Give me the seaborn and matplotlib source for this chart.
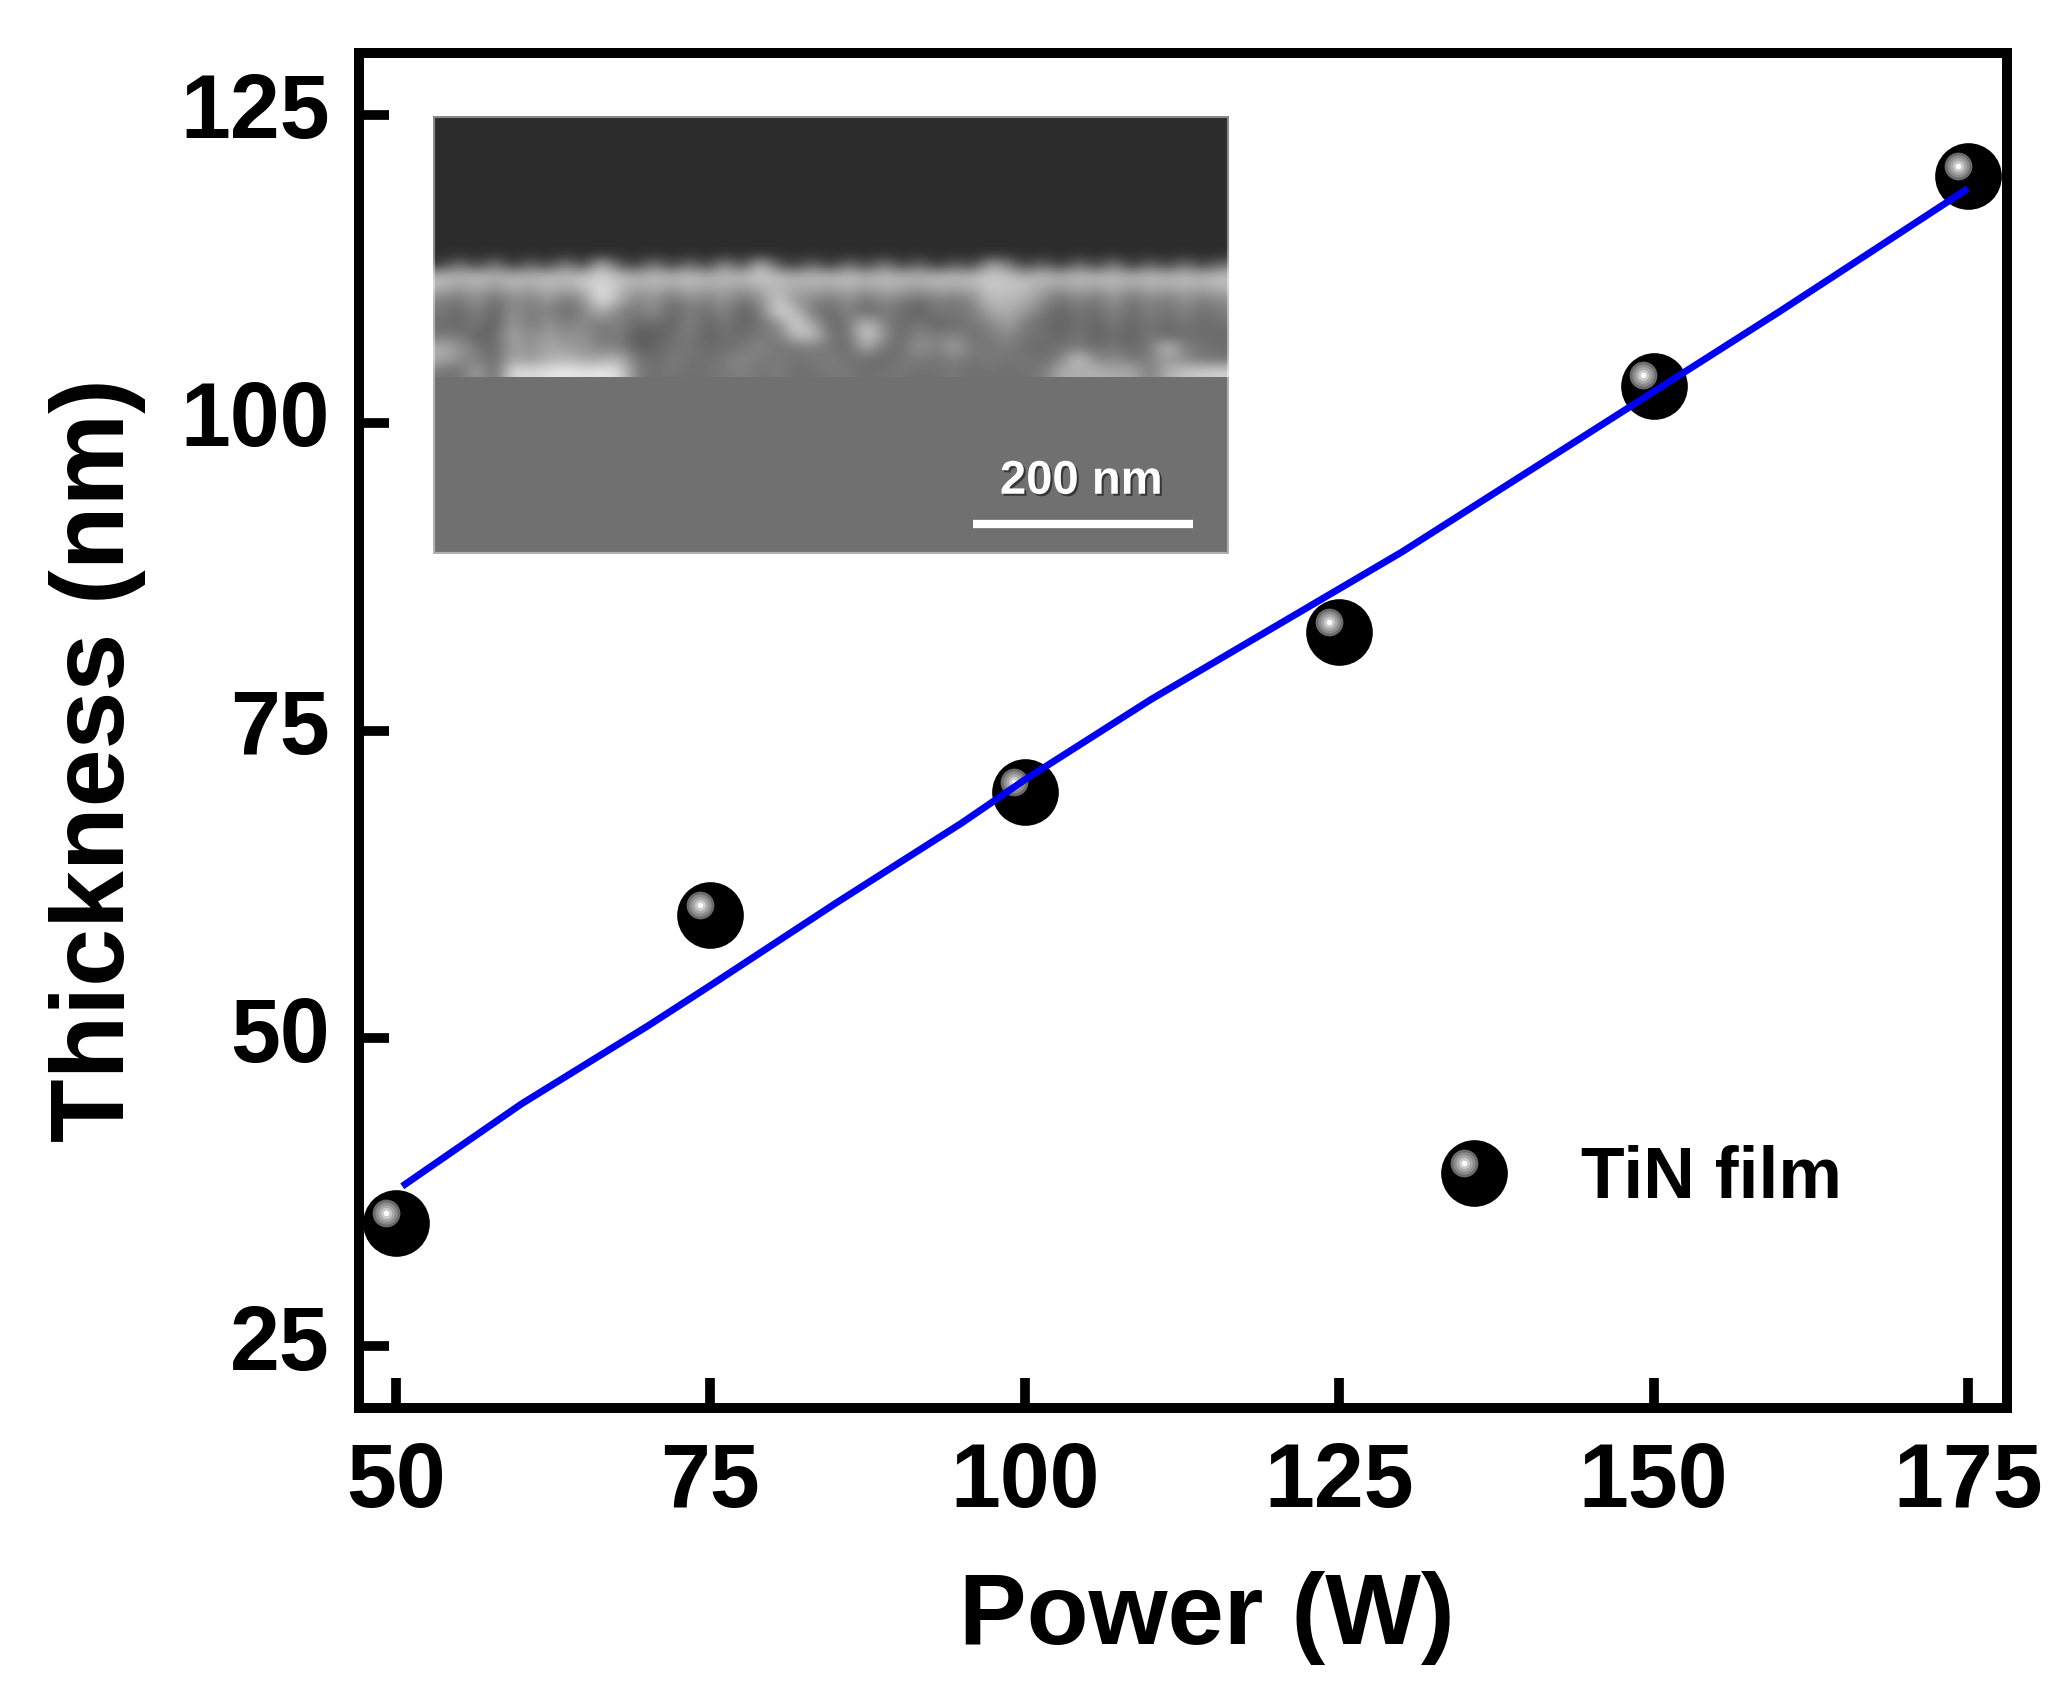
import numpy as np
import pandas as pd
import matplotlib
matplotlib.use("Agg")
import matplotlib.pyplot as plt
import matplotlib.patheffects as pe
from matplotlib.legend_handler import HandlerBase
from matplotlib.lines import Line2D
from matplotlib.patches import Rectangle
from matplotlib.transforms import ScaledTranslation
import seaborn as sns

# Data
power = [50, 75, 100, 125, 150, 175]
thickness = [35, 60, 70, 83, 103, 120]
fit_power = [50.5, 60, 70, 75, 85, 95, 100, 110, 125, 130, 140, 150, 160, 175]
fit_thickness = [38, 44.7, 51, 54.3, 61, 67.5, 71, 77.5, 86.5, 89.5, 96, 102.5, 109, 119]
x_ticks = [50, 75, 100, 125, 150, 175]
y_ticks = [25, 50, 75, 100, 125]

# SEM inset, grey levels of the film cross-section (coarse reading, 45 columns)
sem_film = [
    [60, 120, 60, 130, 50, 110, 60, 140, 60, 190, 90, 60, 130, 60, 120, 60, 150, 70, 190, 90, 60, 110, 50, 120, 60, 130, 60, 110, 50, 100, 60, 170, 130, 60, 110, 50, 120, 60, 130, 50, 110, 60, 120, 60, 110],
    [190, 180, 195, 175, 190, 180, 195, 185, 200, 210, 195, 180, 190, 185, 195, 180, 190, 185, 205, 190, 180, 190, 185, 195, 180, 190, 185, 180, 190, 185, 190, 205, 195, 180, 190, 180, 190, 185, 190, 180, 190, 185, 190, 185, 195],
    [175, 150, 170, 145, 175, 160, 180, 165, 185, 225, 190, 160, 175, 155, 175, 160, 170, 150, 175, 185, 165, 170, 160, 175, 155, 175, 165, 155, 170, 165, 170, 200, 195, 190, 165, 150, 170, 155, 175, 150, 170, 160, 175, 160, 180],
    [130, 115, 150, 105, 145, 125, 155, 120, 140, 230, 175, 130, 150, 110, 145, 125, 150, 115, 140, 205, 150, 135, 120, 145, 115, 140, 125, 110, 130, 120, 135, 190, 180, 175, 140, 110, 135, 115, 150, 110, 140, 120, 145, 125, 140],
    [120, 105, 130, 95, 150, 120, 135, 105, 130, 175, 130, 115, 145, 100, 125, 110, 135, 95, 120, 215, 190, 120, 105, 135, 100, 125, 110, 95, 120, 115, 125, 165, 175, 150, 120, 100, 120, 105, 135, 105, 130, 110, 135, 110, 125],
    [110, 100, 125, 90, 160, 115, 150, 125, 140, 120, 135, 105, 110, 95, 135, 100, 120, 100, 115, 140, 215, 165, 100, 120, 195, 130, 105, 120, 100, 110, 120, 130, 165, 120, 110, 95, 115, 100, 120, 100, 120, 105, 120, 105, 115],
    [120, 125, 95, 105, 170, 135, 160, 140, 150, 115, 125, 90, 95, 110, 125, 95, 115, 105, 125, 120, 190, 195, 115, 110, 215, 145, 100, 140, 120, 135, 110, 125, 140, 115, 115, 100, 120, 95, 115, 95, 125, 100, 110, 110, 105],
    [175, 150, 120, 100, 165, 140, 170, 155, 150, 130, 135, 95, 100, 115, 120, 105, 110, 120, 135, 115, 120, 125, 120, 105, 170, 115, 110, 150, 125, 165, 120, 115, 125, 110, 105, 115, 125, 110, 120, 105, 115, 195, 130, 115, 110],
    [170, 140, 130, 105, 170, 150, 175, 185, 165, 170, 180, 120, 105, 125, 115, 110, 125, 135, 120, 125, 115, 120, 125, 115, 110, 105, 120, 125, 115, 130, 115, 125, 115, 120, 110, 130, 205, 130, 140, 120, 125, 160, 135, 120, 115],
    [120, 110, 165, 100, 225, 215, 225, 235, 225, 230, 225, 125, 110, 120, 110, 115, 120, 130, 115, 125, 110, 115, 120, 120, 110, 115, 120, 110, 115, 120, 110, 115, 110, 115, 120, 175, 170, 180, 165, 175, 120, 175, 195, 205, 210],
]
sem_dark = 44
sem_substrate = 112

WIDTH, HEIGHT = 2069, 1685
BLUE = "#0000f5"

sns.set_theme(style="ticks")
plt.rcParams["font.family"] = ["Liberation Sans", "DejaVu Sans"]
plt.rcParams["font.weight"] = "bold"

ball_sizes = [48, 20, 16, 12, 8, 4]
ball_colours = ["black", "#6a6a6a", "#8c8c8c", "#a8a8a8", "#cacaca", "white"]
ball_shifts = [0, -7.5, -7.5, -7.5, -7.5, -7.5]


def px_rect(left, top, right, bottom):
    # figure fractions from reference pixel positions
    return [left / WIDTH, 1 - bottom / HEIGHT, (right - left) / WIDTH, (bottom - top) / HEIGHT]


class GlossHandler(HandlerBase):
    # legend key drawn as the same shiny ball as the data points
    def create_artists(self, legend, orig_handle, xdescent, ydescent, width, height, fontsize, trans):
        cx, cy = width / 2 - xdescent, height / 2 - ydescent
        key = []
        for size, colour, dx in zip(ball_sizes, ball_colours, ball_shifts):
            key.append(Line2D([cx + dx], [cy - dx], marker="o", markersize=size, color=colour,
                              markeredgewidth=0, linestyle="none", transform=trans))
        return key


df = pd.DataFrame({"power": power, "thickness": thickness})
df_fit = pd.DataFrame({"power": fit_power, "thickness": fit_thickness})

fig = plt.figure(figsize=(WIDTH / 100, HEIGHT / 100), dpi=100, facecolor="white")
ax = fig.add_axes(px_rect(359, 53, 2007, 1408))

# Points, each layer shifted to give the highlight
for size, colour, shift in zip(ball_sizes, ball_colours, ball_shifts):
    offset = ax.transData + ScaledTranslation(shift / 72, -shift / 72, fig.dpi_scale_trans)
    sns.scatterplot(data=df, x="power", y="thickness", s=size ** 2, color=colour, linewidth=0,
                    ax=ax, clip_on=False, transform=offset, zorder=3, legend=False)

sns.lineplot(data=df_fit, x="power", y="thickness", color=BLUE, linewidth=5, ax=ax, zorder=4,
             solid_capstyle="butt")

ax.set_xlim(47.06, 178.1)
ax.set_ylim(20, 130)
ax.set_xticks(x_ticks)
ax.set_yticks(y_ticks)
ax.tick_params(axis="both", direction="in", length=21.5, width=7, labelsize=64.5, color="black", labelcolor="black")
ax.tick_params(axis="x", pad=24)
ax.tick_params(axis="y", pad=21)
# y tick labels sit a little above their ticks in the original
for label in ax.get_yticklabels():
    label.set_transform(label.get_transform() + ScaledTranslation(0, 7 / 72, fig.dpi_scale_trans))
for spine in ax.spines.values():
    spine.set_visible(True)
    spine.set_linewidth(7.2)
    spine.set_color("black")

ax.set_xlabel("Power (W)", fontsize=73, fontweight="bold", color="black")
ax.set_ylabel("Thickness (nm)", fontsize=75, fontweight="bold", color="black")
ax.xaxis.set_label_coords(0.5146, -0.12)
ax.yaxis.set_label_coords(-0.129, 0.478)

legend = ax.legend([Line2D([], [])], ["TiN film"], handler_map={Line2D: GlossHandler()},
                   frameon=False, fontsize=51.5, loc="center left", bbox_to_anchor=(0.655, 0.169),
                   handlelength=1.0, handletextpad=1.0, borderpad=0, borderaxespad=0)
legend.get_texts()[0].set_color("black")

# SEM inset, a dark row on top lets the film edge fade into the background
film = np.vstack([np.full((1, len(sem_film[0])), sem_dark), np.array(sem_film)])
inset = fig.add_axes(px_rect(433, 116, 1229, 554), zorder=2)
inset.set_facecolor(str(sem_dark / 255))
inset.imshow(np.full((2, 2), sem_substrate), cmap="gray", vmin=0, vmax=255, extent=(0, 1, 0, 0.42), aspect="auto")
inset.imshow(film, cmap="gray", vmin=0, vmax=255, extent=(0, 1, 0.405, 0.70), aspect="auto",
             interpolation="bicubic")
inset.set_xlim(0, 1)
inset.set_ylim(0, 1)
inset.set_xticks([])
inset.set_yticks([])
for spine in inset.spines.values():
    spine.set_visible(False)
# soft photo edge
inset.add_patch(Rectangle((0, 0), 1, 1, transform=inset.transAxes, fill=False, edgecolor="white",
                          linewidth=3, alpha=0.45, zorder=5))
inset.plot([0.679, 0.955], [0.068, 0.068], color="white", linewidth=6, solid_capstyle="butt")
inset.text(0.8146, 0.165, "200 nm", color="white", fontsize=34, fontweight="bold", ha="center", va="center",
           path_effects=[pe.withSimplePatchShadow(offset=(1.5, -1.5), shadow_rgbFace="black", alpha=0.5)])

fig.savefig("out.png", dpi=100)
